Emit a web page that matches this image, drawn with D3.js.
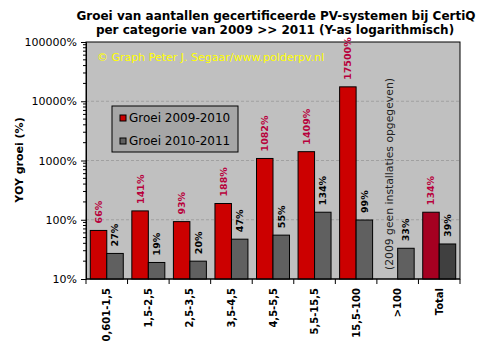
<!DOCTYPE html>
<html>
<head>
<meta charset="utf-8">
<script src="https://cdn.jsdelivr.net/npm/d3@7"></script>
<style>
  body { margin: 0; background: #fff; }
  text { font-family: "DejaVu Sans", Verdana, sans-serif; }
</style>
</head>
<body>
<div id="chart"></div>
<script>
// data
const categories = ["0,601-1,5", "1,5-2,5", "2,5-3,5", "3,5-4,5", "4,5-5,5", "5,5-15,5", "15,5-100", ">100", "Total"];
const groei0910 = [66, 141, 93, 188, 1082, 1409, 17500, null, 134];
const groei1011 = [27, 19, 20, 47, 55, 134, 99, 33, 39];
const seriesNames = ["Groei 2009-2010", "Groei 2010-2011"];
const yTicks = [10, 100, 1000, 10000, 100000];

const width = 481, height = 351;
const plotLeft = 86, plotRight = 460, plotTop = 42, plotBottom = 279;

let svg = d3.select("#chart").append("svg")
  .attr("width", width).attr("height", height);

let x = d3.scaleBand().domain(categories).range([plotLeft, plotRight]).paddingInner(0).paddingOuter(0);
let xs = d3.scaleBand().domain([0, 1]).range([0, x.bandwidth()]).paddingInner(0).paddingOuter(0.26);
let y = d3.scaleLog().domain([10, 100000]).range([plotBottom, plotTop]);

// plot background
svg.append("rect")
  .attr("x", plotLeft).attr("y", plotTop)
  .attr("width", plotRight - plotLeft).attr("height", plotBottom - plotTop)
  .attr("fill", "#c0c0c0").attr("stroke", "#000");

// dashed gridlines
svg.append("g").selectAll("line")
  .data(yTicks.slice(1, -1))
  .enter().append("line")
  .attr("x1", plotLeft).attr("x2", plotRight)
  .attr("y1", d => y(d)).attr("y2", d => y(d))
  .attr("stroke", "#a0a0a0").attr("stroke-dasharray", "3,2");

// copyright
svg.append("text")
  .attr("x", 97).attr("y", 61)
  .attr("fill", "#ffff00")
  .style("font-size", "11px")
  .text("\u00a9 Graph Peter J. Segaar/www.polderpv.nl");

// bars
function barColor(s, i) {
  if (categories[i] === "Total") return s === 0 ? "#a50021" : "#404040";
  return s === 0 ? "#cc0000" : "#606060";
}
let series = [groei0910, groei1011];
series.forEach(function(vals, s) {
  let g = svg.append("g");
  vals.forEach(function(v, i) {
    if (v === null) return;
    let bx = x(categories[i]) + xs(s);
    g.append("rect")
      .attr("x", bx).attr("y", y(v))
      .attr("width", xs.bandwidth()).attr("height", plotBottom - y(v))
      .attr("fill", barColor(s, i)).attr("stroke", "#000");
    g.append("text")
      .attr("transform", "translate(" + (bx + xs.bandwidth() / 2) + "," + (y(v) - 7) + ") rotate(-90)")
      .attr("dy", "0.36em")
      .attr("fill", s === 0 ? "#b8003c" : "#000")
      .style("font-size", "9.5px").style("font-weight", "bold")
      .text(v + "%");
  });
});

// note for >100
svg.append("text")
  .attr("transform", "translate(" + (x(">100") + xs(0) + xs.bandwidth() / 2) + "," + 270 + ") rotate(-90)")
  .attr("dy", "0.36em")
  .attr("fill", "#202020")
  .style("font-size", "10.8px")
  .text("(2009 geen installaties opgegeven)");

// y axis
let yAxis = d3.axisLeft(y).tickValues(yTicks).tickFormat(d => d + "%").tickSize(5).tickPadding(4);
let ya = svg.append("g").attr("transform", "translate(" + plotLeft + ",0)").call(yAxis);
ya.select(".domain").attr("stroke", "#000");
ya.selectAll("text").style("font-size", "11px").attr("fill", "#000")
  .style("font-family", "'DejaVu Sans', Verdana, sans-serif");

let minor = [];
yTicks.slice(0, -1).forEach(function(d) {
  for (let k = 2; k <= 9; k++) minor.push(d * k);
});
svg.append("g").selectAll("line")
  .data(minor).enter().append("line")
  .attr("x1", plotLeft - 3).attr("x2", plotLeft)
  .attr("y1", d => y(d)).attr("y2", d => y(d))
  .attr("stroke", "#000");

// x axis
svg.append("line")
  .attr("x1", plotLeft).attr("x2", plotRight).attr("y1", plotBottom).attr("y2", plotBottom)
  .attr("stroke", "#000");
svg.append("g").selectAll("line")
  .data(categories.concat([null])).enter().append("line")
  .attr("x1", (d, i) => plotLeft + i * x.step()).attr("x2", (d, i) => plotLeft + i * x.step())
  .attr("y1", plotBottom).attr("y2", plotBottom + 5)
  .attr("stroke", "#000");
svg.append("g").selectAll("text")
  .data(categories).enter().append("text")
  .attr("transform", d => "translate(" + (x(d) + x.bandwidth() / 2) + "," + (plotBottom + 9) + ") rotate(-90)")
  .attr("dy", "0.36em")
  .attr("text-anchor", "end")
  .style("font-size", "10px").style("font-weight", "bold")
  .text(d => d);

// legend
let lg = svg.append("g").attr("transform", "translate(112,106)");
lg.append("rect").attr("width", 126).attr("height", 46)
  .attr("fill", "#a6a6a6").attr("stroke", "#000");
seriesNames.forEach(function(name, i) {
  lg.append("rect")
    .attr("x", 8).attr("y", 9 + i * 23)
    .attr("width", 6).attr("height", 6)
    .attr("fill", i === 0 ? "#cc0000" : "#606060").attr("stroke", "#000");
  lg.append("text")
    .attr("x", 17).attr("y", 12 + i * 23)
    .attr("dy", "0.36em")
    .style("font-size", "12px")
    .text(name);
});

// axis title
svg.append("text")
  .attr("transform", "translate(19,160) rotate(-90)")
  .attr("dy", "0.36em")
  .attr("text-anchor", "middle")
  .style("font-size", "11px").style("font-weight", "bold")
  .text("YOY groei (%)");

// chart title
let title = svg.append("text")
  .attr("text-anchor", "middle")
  .style("font-size", "12px").style("font-weight", "bold");
title.append("tspan").attr("x", 276).attr("y", 20)
  .text("Groei van aantallen gecertificeerde PV-systemen bij CertiQ");
title.append("tspan").attr("x", 275).attr("y", 34)
  .text("per categorie van 2009 >> 2011 (Y-as logarithmisch)");
</script>
</body>
</html>
